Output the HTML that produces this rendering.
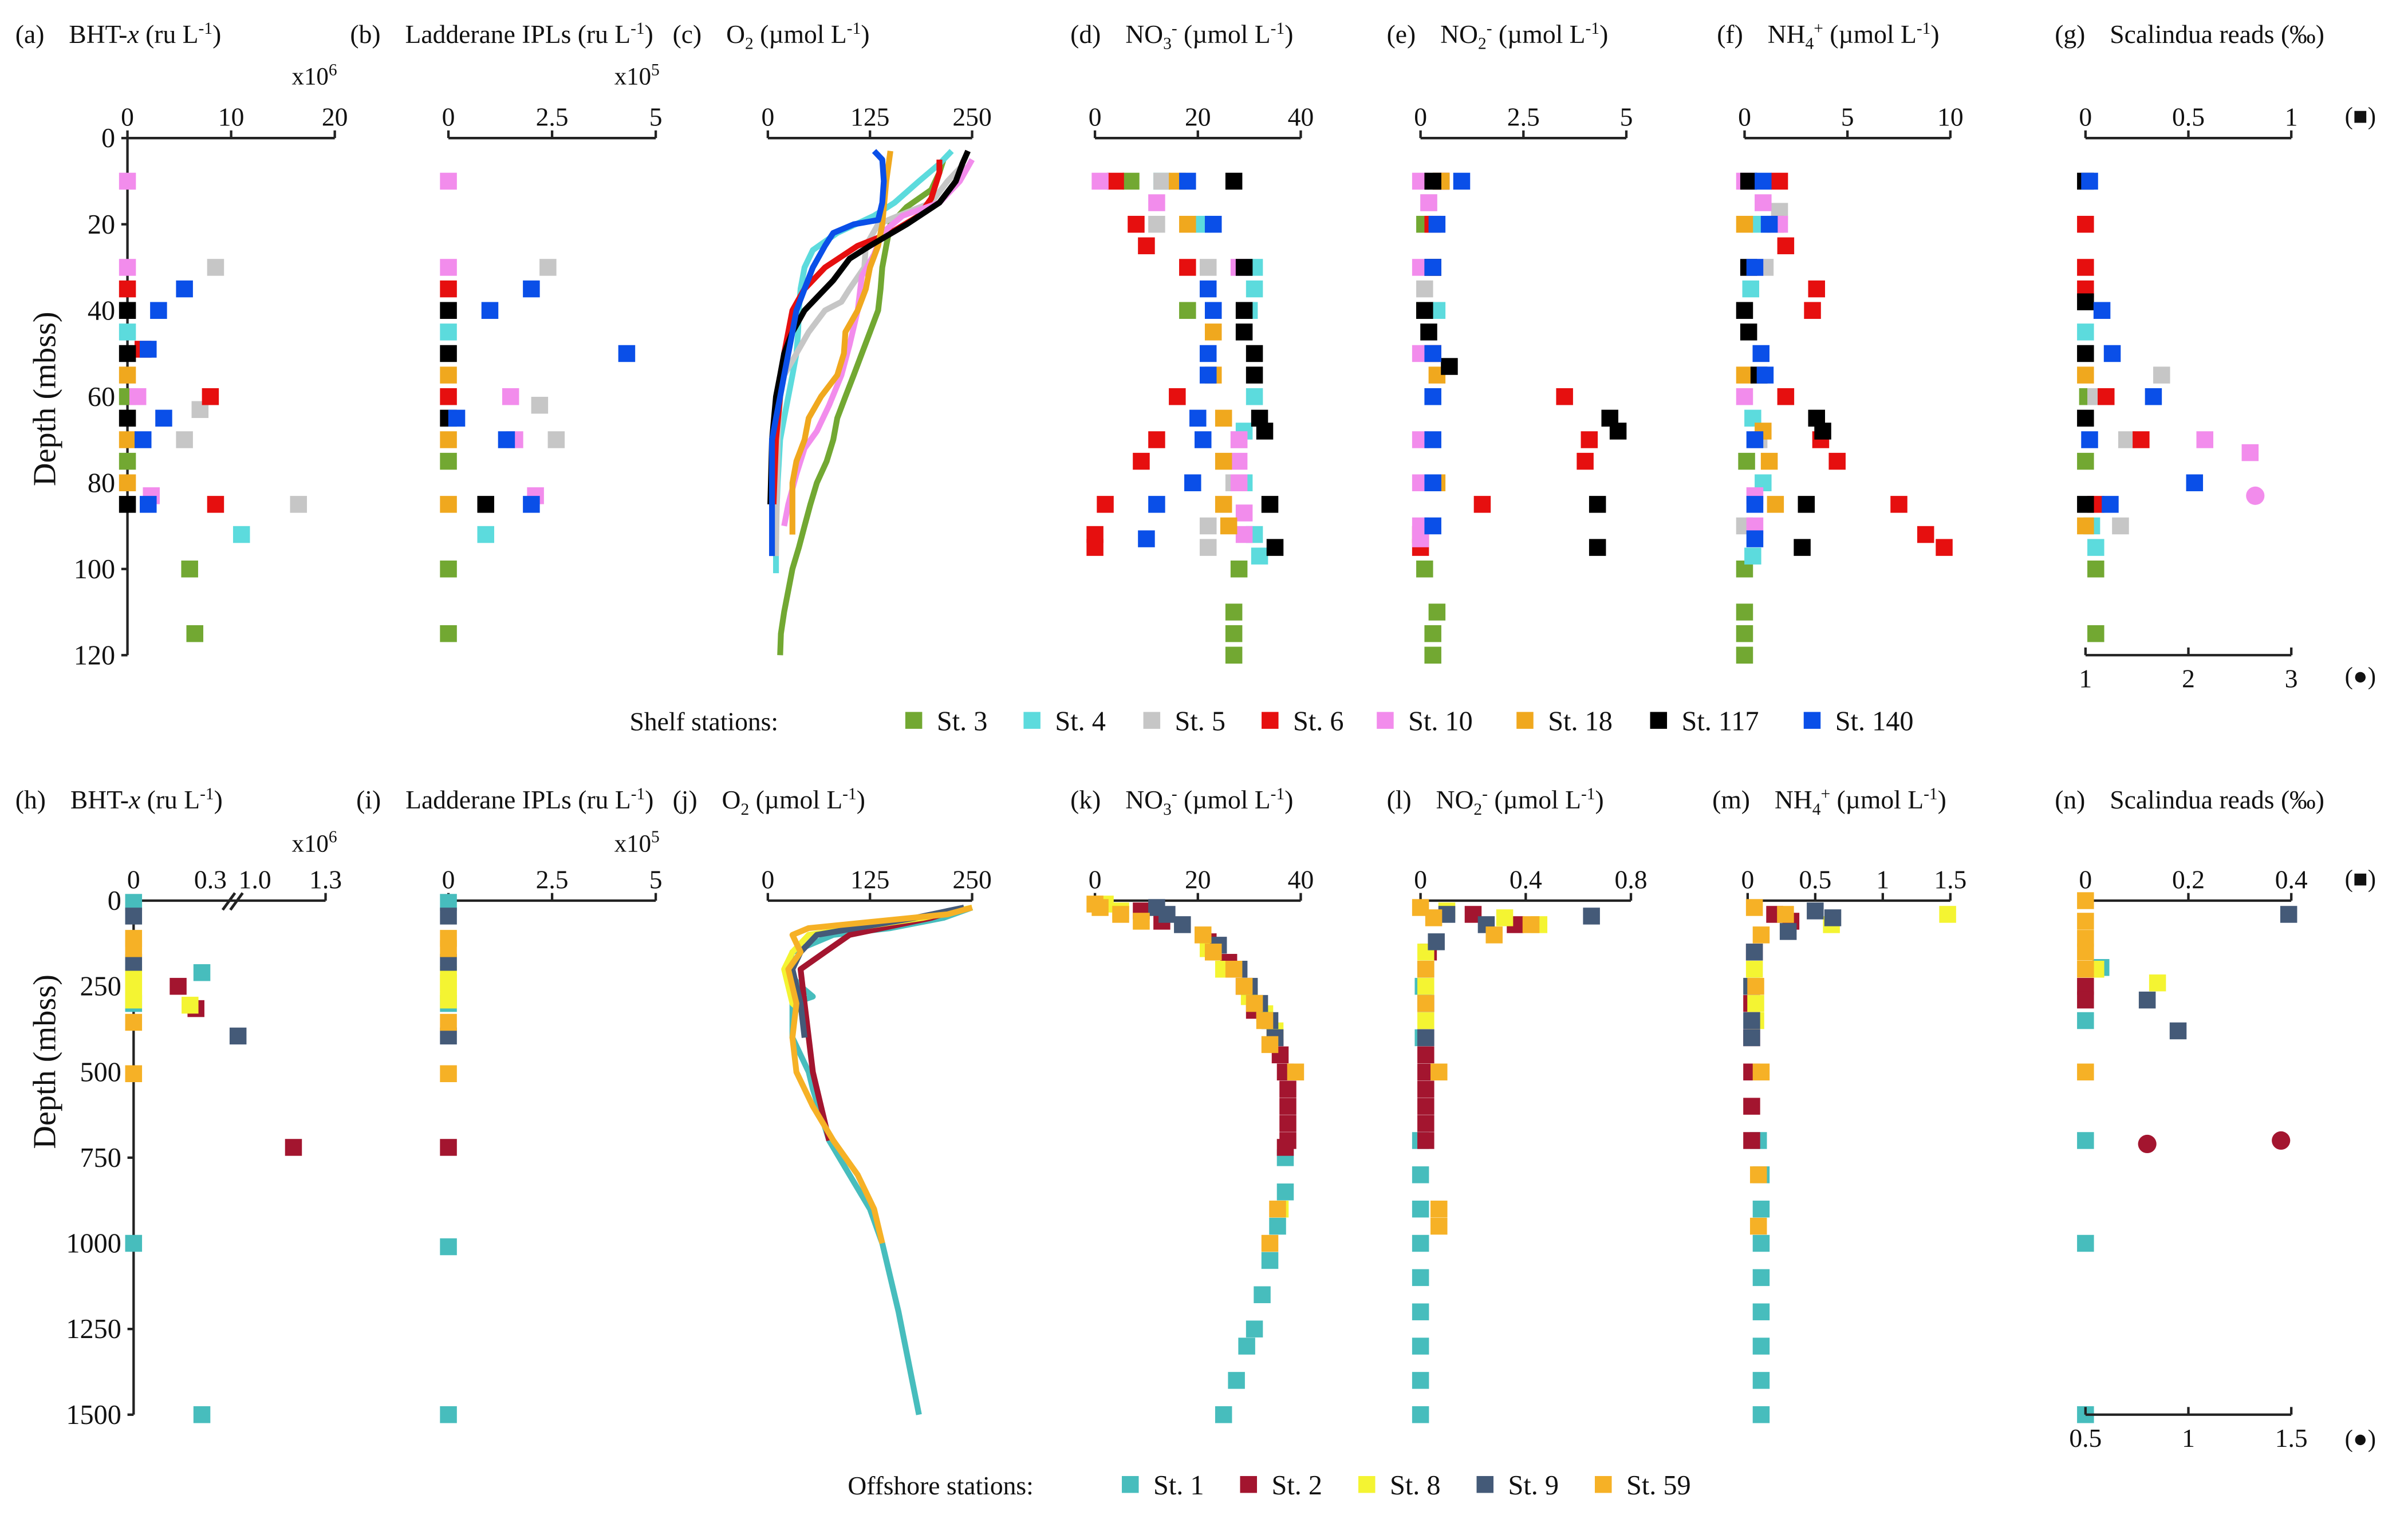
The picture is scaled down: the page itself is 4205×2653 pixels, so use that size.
<!DOCTYPE html>
<html><head><meta charset="utf-8"><style>
html,body{margin:0;padding:0;background:#fff}
svg{display:block;font-family:"Liberation Serif","DejaVu Serif",serif}
text{font-family:"Liberation Serif","DejaVu Serif",serif;fill:#111}
</style></head><body>
<svg id="fig" xmlns="http://www.w3.org/2000/svg" width="4205" height="2653" viewBox="0 0 1568 990" preserveAspectRatio="none">
<g id="static" font-size="17">
<text x="10" y="28">(a)<tspan dx="16">BHT-</tspan><tspan font-style="italic">x</tspan> (ru L<tspan dy="-6" font-size="11">-1</tspan><tspan dy="6">)</tspan></text>
<text x="228" y="28">(b)<tspan dx="16">Ladderane IPLs (ru L</tspan><tspan dy="-6" font-size="11">-1</tspan><tspan dy="6">)</tspan></text>
<text x="438" y="28">(c)<tspan dx="16">O</tspan><tspan dy="4" font-size="11">2</tspan><tspan dy="-4"> (µmol L</tspan><tspan dy="-6" font-size="11">-1</tspan><tspan dy="6">)</tspan></text>
<text x="697" y="28">(d)<tspan dx="16">NO</tspan><tspan dy="4" font-size="11">3</tspan><tspan dy="-10" font-size="11">-</tspan><tspan dy="6"> (µmol L</tspan><tspan dy="-6" font-size="11">-1</tspan><tspan dy="6">)</tspan></text>
<text x="903" y="28">(e)<tspan dx="16">NO</tspan><tspan dy="4" font-size="11">2</tspan><tspan dy="-10" font-size="11">-</tspan><tspan dy="6"> (µmol L</tspan><tspan dy="-6" font-size="11">-1</tspan><tspan dy="6">)</tspan></text>
<text x="1118" y="28">(f)<tspan dx="16">NH</tspan><tspan dy="4" font-size="11">4</tspan><tspan dy="-10" font-size="11">+</tspan><tspan dy="6"> (µmol L</tspan><tspan dy="-6" font-size="11">-1</tspan><tspan dy="6">)</tspan></text>
<text x="1338" y="28">(g)<tspan dx="16">Scalindua reads (‰)</tspan></text>
<text x="10" y="527">(h)<tspan dx="16">BHT-</tspan><tspan font-style="italic">x</tspan> (ru L<tspan dy="-6" font-size="11">-1</tspan><tspan dy="6">)</tspan></text>
<text x="232" y="527">(i)<tspan dx="16">Ladderane IPLs (ru L</tspan><tspan dy="-6" font-size="11">-1</tspan><tspan dy="6">)</tspan></text>
<text x="438" y="527">(j)<tspan dx="16">O</tspan><tspan dy="4" font-size="11">2</tspan><tspan dy="-4"> (µmol L</tspan><tspan dy="-6" font-size="11">-1</tspan><tspan dy="6">)</tspan></text>
<text x="697" y="527">(k)<tspan dx="16">NO</tspan><tspan dy="4" font-size="11">3</tspan><tspan dy="-10" font-size="11">-</tspan><tspan dy="6"> (µmol L</tspan><tspan dy="-6" font-size="11">-1</tspan><tspan dy="6">)</tspan></text>
<text x="903" y="527">(l)<tspan dx="16">NO</tspan><tspan dy="4" font-size="11">2</tspan><tspan dy="-10" font-size="11">-</tspan><tspan dy="6"> (µmol L</tspan><tspan dy="-6" font-size="11">-1</tspan><tspan dy="6">)</tspan></text>
<text x="1115" y="527">(m)<tspan dx="16">NH</tspan><tspan dy="4" font-size="11">4</tspan><tspan dy="-10" font-size="11">+</tspan><tspan dy="6"> (µmol L</tspan><tspan dy="-6" font-size="11">-1</tspan><tspan dy="6">)</tspan></text>
<text x="1338" y="527">(n)<tspan dx="16">Scalindua reads (‰)</tspan></text>
<text x="190" y="55" font-size="16">x10<tspan dy="-6" font-size="11">6</tspan></text>
<text x="400" y="55" font-size="16">x10<tspan dy="-6" font-size="11">5</tspan></text>
<text x="190" y="555" font-size="16">x10<tspan dy="-6" font-size="11">6</tspan></text>
<text x="400" y="555" font-size="16">x10<tspan dy="-6" font-size="11">5</tspan></text>
<text transform="translate(36,260) rotate(-90)" text-anchor="middle" font-size="21">Depth (mbss)</text>
<text transform="translate(36,692) rotate(-90)" text-anchor="middle" font-size="21">Depth (mbss)</text>
<text x="1537" y="81" text-anchor="middle" font-size="16">(■)</text>
<text x="1537" y="446" text-anchor="middle" font-size="16">(●)</text>
<text x="1537" y="578" text-anchor="middle" font-size="16">(■)</text>
<text x="1537" y="943" text-anchor="middle" font-size="16">(●)</text>
<text x="410" y="476">Shelf stations:</text>
<text x="552" y="974">Offshore stations:</text>
</g>
<g id="plot"></g>
</svg>
<script>
const shelfStations = ['St. 3','St. 4','St. 5','St. 6','St. 10','St. 18','St. 117','St. 140'];
const shelfColors = ['#72a832','#5cdbdd','#c6c6c6','#e60f0f','#f28cec','#f0a81e','#000000','#0a4fe8'];
const offStations = ['St. 1','St. 2','St. 8','St. 9','St. 59'];
const offColors = ['#47bdbd','#a3152f','#f4f432','#445a78','#f6b126'];

const bhtShelf = [
 [[60,0],[75,0],[100,6],[115,6.5]],
 [[45,0],[92,11]],
 [[30,8.5],[63,7],[70,5.5],[85,16.5]],
 [[35,0],[49,1.5],[60,8],[85,8.5]],
 [[10,0],[30,0],[60,1],[83,2.3]],
 [[55,0],[70,0],[80,0]],
 [[40,0],[50,0],[65,0],[85,0]],
 [[35,5.5],[40,3],[49,2],[65,3.5],[70,1.5],[85,2]]
];
const ladShelf = [
 [[75,0],[100,0],[115,0]],
 [[45,0],[92,0.9]],
 [[30,2.4],[62,2.2],[70,2.6]],
 [[35,0],[60,0]],
 [[10,0],[30,0],[60,1.5],[70,1.6],[83,2.1]],
 [[55,0],[70,0],[85,0]],
 [[40,0],[50,0],[65,0],[85,0.9]],
 [[35,2.0],[40,1.0],[50,4.3],[65,0.2],[70,1.4],[85,2.0]]
];
const o2Shelf = [
 [[5,215],[8,210],[12,200],[16,170],[20,150],[25,145],[30,140],[35,138],[40,135],[45,125],[50,115],[55,105],[60,95],[65,85],[70,80],[75,72],[80,60],[85,52],[90,45],[95,38],[100,30],[105,25],[110,20],[115,16],[120,15]],
 [[3,225],[6,210],[10,185],[15,155],[18,130],[22,85],[26,55],[30,45],[35,40],[40,38],[45,37],[50,35],[55,30],[60,25],[65,20],[70,15],[80,12],[90,10],[101,10]],
 [[6,240],[10,220],[15,200],[18,160],[20,135],[25,120],[30,118],[35,100],[38,90],[40,70],[45,50],[50,35],[55,20],[60,15],[70,12],[97,10]],
 [[5,210],[8,210],[14,200],[18,185],[22,150],[25,110],[30,70],[35,45],[40,30],[50,20],[60,15],[70,10],[85,7]],
 [[5,250],[10,235],[15,210],[18,165],[22,140],[27,130],[32,115],[40,110],[48,100],[55,90],[62,75],[68,60],[72,45],[78,35],[85,25],[90,20]],
 [[3,150],[10,145],[20,140],[25,135],[30,125],[35,120],[40,110],[45,95],[50,93],[55,85],[60,65],[65,50],[70,45],[75,35],[80,30],[92,30]],
 [[3,245],[6,238],[10,230],[15,210],[20,170],[25,125],[28,100],[33,80],[37,60],[40,45],[45,30],[50,20],[55,15],[60,10],[70,5],[85,3]],
 [[3,130],[5,140],[10,142],[15,140],[19,135],[20,105],[22,80],[25,70],[30,55],[35,45],[40,35],[45,30],[55,20],[60,15],[65,10],[70,5],[97,5]]
];
const no3Shelf = [
 [[10,7],[40,18],[100,28],[110,27],[115,27],[120,27]],
 [[10,13],[20,21],[30,31],[35,31],[40,30],[60,31],[68,29],[80,29],[92,31],[97,32]],
 [[10,13],[20,12],[30,22],[70,28],[80,27],[90,22],[95,22]],
 [[10,4],[20,8],[25,10],[30,18],[60,16],[70,12],[75,9],[85,2],[92,0],[95,0]],
 [[10,1],[15,12],[30,28],[70,28],[75,28],[80,28],[87,29],[92,29]],
 [[10,16],[20,18],[45,23],[55,23],[65,25],[75,25],[85,25],[90,26]],
 [[10,27],[30,29],[40,29],[45,29],[50,31],[55,31],[65,32],[68,33],[85,34],[95,35]],
 [[10,18],[20,23],[35,22],[40,23],[50,22],[55,22],[65,20],[70,21],[80,19],[85,12],[93,10]]
];
const no2Shelf = [
 [[20,0.1],[40,0.1],[100,0.1],[110,0.4],[115,0.3],[120,0.3]],
 [[10,0.5],[40,0.4],[60,0.3]],
 [[15,0.2],[35,0.1]],
 [[10,0.5],[20,0.3],[30,0.3],[50,0.3],[60,3.5],[70,4.1],[75,4.0],[85,1.5],[92,0],[95,0]],
 [[10,0],[15,0.2],[30,0],[50,0],[70,0],[80,0],[90,0],[93,0]],
 [[10,0.5],[55,0.4],[80,0.4]],
 [[10,0.3],[30,0.3],[40,0.1],[45,0.2],[53,0.7],[65,4.6],[68,4.8],[85,4.3],[95,4.3]],
 [[10,1.0],[20,0.4],[30,0.3],[50,0.3],[60,0.3],[70,0.3],[80,0.3],[90,0.3]]
];
const nh4Shelf = [
 [[75,0.1],[100,0],[110,0],[115,0],[120,0]],
 [[20,0.7],[35,0.3],[65,0.4],[80,0.9],[97,0.4]],
 [[17,1.7],[30,1.0],[70,0.7],[90,0]],
 [[10,1.7],[20,1.5],[25,2.0],[35,3.5],[40,3.3],[60,2.0],[70,3.7],[75,4.5],[85,7.5],[92,8.8],[95,9.7]],
 [[10,0],[15,0.9],[20,1.7],[30,0.5],[60,0],[83,0.5],[90,0.5]],
 [[20,0],[55,0],[68,0.9],[75,1.2],[85,1.5]],
 [[10,0.2],[30,0.2],[40,0],[45,0.2],[55,0.7],[65,3.5],[68,3.8],[85,3.0],[95,2.8]],
 [[10,0.9],[20,1.2],[30,0.5],[50,0.8],[55,1.0],[70,0.5],[85,0.5],[93,0.5]]
];
const scalShelf = [
 [[60,0.01],[75,0],[100,0.05],[115,0.05]],
 [[45,0],[90,0.03],[95,0.05]],
 [[55,0.37],[60,0.05],[70,0.2],[90,0.17]],
 [[20,0],[30,0],[35,0],[60,0.1],[70,0.27],[85,0.05]],
 [[70,0.58],[73,0.8]],
 [[55,0],[90,0]],
 [[10,0],[38,0],[50,0],[65,0],[85,0]],
 [[10,0.02],[40,0.08],[50,0.13],[60,0.33],[70,0.02],[80,0.53],[85,0.12]]
];
const scalShelfCircles = [[],[],[],[],[[83,2.65]],[],[],[]];

const bhtOff = [
 [[5,0],[300,0],[210,0.23],[1000,0],[1500,0.23]],
 [[250,0.15],[315,0.21],[720,1.19]],
 [[215,0],[240,0],[265,0],[290,0],[305,0.19]],
 [[45,0],[180,0],[395,1.0]],
 [[110,0],[140,0],[355,0],[505,0]]
];
const ladOff = [
 [[5,0],[300,0],[1010,0],[1500,0]],
 [[720,0]],
 [[215,0],[240,0],[265,0],[290,0]],
 [[45,0],[180,0],[395,0]],
 [[110,0],[140,0],[355,0],[505,0]]
];
const o2Off = [
 [[20,250],[50,215],[80,150],[100,80],[150,30],[200,22],[250,40],[280,55],[300,30],[400,30],[500,50],[550,55],[700,75],[800,100],[900,125],[1000,140],[1200,160],[1500,185]],
 [[20,240],[50,200],[100,100],[150,70],[200,40],[300,45],[400,50],[500,55],[600,65],[700,75]],
 [[20,250],[50,190],[100,50],[150,30],[200,20],[300,30],[320,40]],
 [[20,240],[50,180],[100,60],[150,40],[200,30],[300,40],[400,45]],
 [[20,250],[40,220],[80,50],[100,30],[150,40],[200,25],[300,35],[400,30],[500,35],[600,55],[700,80],[800,110],[900,130],[1000,140]]
];
const no3Off = [
 [[750,37],[850,37],[950,35.5],[1050,34],[1150,32.5],[1250,31],[1300,29.5],[1400,27.5],[1500,25]],
 [[30,9],[60,13],[120,22],[180,26],[250,29],[320,31],[400,35],[450,36],[500,37],[550,37.5],[600,37.5],[650,37.5],[700,37.5],[720,37]],
 [[10,2],[30,5],[140,22],[200,25],[280,30],[330,33],[380,35],[900,36]],
 [[20,12],[40,14],[70,17],[130,24],[200,28],[250,30],[300,32],[350,34],[400,35]],
 [[10,0],[20,1],[40,5],[60,9],[100,21],[150,23],[200,27],[250,29],[300,31],[350,33],[420,34],[500,39],[900,35.5],[1000,34]]
];
const no2Off = [
 [[250,0.01],[400,0.01],[700,0],[800,0],[900,0],[1000,0],[1100,0],[1200,0],[1300,0],[1400,0],[1500,0]],
 [[40,0.2],[70,0.36],[150,0.03],[300,0.02],[400,0.02],[450,0.02],[500,0.02],[550,0.02],[600,0.02],[650,0.02],[700,0.02]],
 [[30,0.1],[50,0.32],[70,0.45],[150,0.02],[250,0.02],[350,0.02]],
 [[40,0.1],[45,0.65],[70,0.25],[120,0.06],[200,0.02],[300,0.02],[400,0.02]],
 [[20,0],[50,0.05],[70,0.42],[100,0.28],[200,0.02],[300,0.02],[500,0.07],[900,0.07],[950,0.07]]
];
const nh4Off = [
 [[700,0.08],[800,0.1],[900,0.1],[1000,0.1],[1100,0.1],[1200,0.1],[1300,0.1],[1400,0.1],[1500,0.1]],
 [[40,0.2],[60,0.32],[150,0.05],[300,0.03],[400,0.03],[500,0.03],[600,0.03],[700,0.03]],
 [[40,1.48],[70,0.62],[200,0.05],[300,0.06],[350,0.06]],
 [[30,0.5],[50,0.63],[90,0.3],[150,0.05],[250,0.03],[350,0.03],[400,0.03]],
 [[20,0.05],[40,0.28],[100,0.1],[250,0.06],[500,0.1],[800,0.08],[950,0.08]]
];
const scalOff = [
 [[195,0.03],[350,0],[700,0],[1000,0],[1500,0]],
 [[250,0],[290,0]],
 [[200,0.02],[240,0.14]],
 [[40,0.395],[290,0.12],[380,0.18]],
 [[0,0],[60,0],[110,0],[150,0],[200,0],[500,0]]
];
const scalOffCircles = [[],[[710,0.8],[700,1.45]],[],[],[]];

const depthTicksTop = [0,20,40,60,80,100,120];
const depthTicksBottom = [0,250,500,750,1000,1250,1500];

const NS='http://www.w3.org/2000/svg';
const plot=document.getElementById('plot');
function el(tag,attrs,parent){const e=document.createElementNS(NS,tag);for(const k in attrs)e.setAttribute(k,attrs[k]);(parent||plot).appendChild(e);return e;}
function txt(x,y,s,anchor,size,parent){const t=el('text',{x:x,y:y,'text-anchor':anchor||'middle','font-size':size||16},parent);t.textContent=s;return t;}

const yTop=d=>90+d*(337/120);
const yBot=d=>587+d*(335/1500);
function lin(x0,x1,v0,v1){return v=>x0+(v-v0)/(v1-v0)*(x1-x0);}

function topAxis(name,x0,x1,y,labels,xs){
  const g=el('g',{});
  
  
  el('line',{x1:x0,y1:y,x2:x1,y2:y,stroke:'#222','stroke-width':1.6},g);
  labels.forEach((l,i)=>{el('line',{x1:xs[i],y1:y,x2:xs[i],y2:y-5,stroke:'#222','stroke-width':1.6},g);txt(xs[i],y-8,l,'middle',17,g);});
}
function bottomAxis(name,x0,x1,y,labels,xs){
  const g=el('g',{});
  
  
  el('line',{x1:x0,y1:y,x2:x1,y2:y,stroke:'#222','stroke-width':1.6},g);
  labels.forEach((l,i)=>{el('line',{x1:xs[i],y1:y,x2:xs[i],y2:y-5,stroke:'#222','stroke-width':1.6},g);txt(xs[i],y+21,l,'middle',17,g);});
}
function depthAxis(name,x,ticks,ys){
  const g=el('g',{});
  
  
  el('line',{x1:x,y1:ys(ticks[0]),x2:x,y2:ys(ticks[ticks.length-1]),stroke:'#222','stroke-width':1.6},g);
  ticks.forEach(t=>{el('line',{x1:x-4,y1:ys(t),x2:x,y2:ys(t),stroke:'#222','stroke-width':1.6},g);txt(x-8,ys(t)+6,String(t),'end',18,g);});
}
function squares(name,data,colors,xs,ys){
  const g=el('g',{});
  
  
  data.forEach((pts,si)=>pts.forEach(p=>{
    const r=el('rect',{x:xs(p[1])-5.5,y:ys(p[0])-5.5,width:11,height:11,fill:colors[si]},g);
    
    
  }));
}
function circles(name,data,colors,xs,ys){
  const g=el('g',{});
  
  
  data.forEach((pts,si)=>pts.forEach(p=>{
    const c=el('circle',{cx:xs(p[1]),cy:ys(p[0]),r:6,fill:colors[si]},g);
    
    
  }));
}
function lines(name,data,colors,xs,ys){
  const g=el('g',{});
  
  
  data.forEach((pts,si)=>{
    const d=pts.map((p,i)=>(i?'L':'M')+xs(p[1]).toFixed(1)+','+ys(p[0]).toFixed(1)).join('');
    const pa=el('path',{d:d,fill:'none',stroke:colors[si],'stroke-width':3.8,'stroke-linejoin':'round'},g);
    
    
  });
}

let sx;
sx=lin(83,218,0,20); topAxis('x-axis-a',83,218,90,['0','10','20'],[0,10,20].map(sx));
depthAxis('y-axis-top',83,depthTicksTop,yTop);
squares('bht-shelf-points',bhtShelf,shelfColors,sx,yTop);
sx=lin(292,427,0,5); topAxis('x-axis-b',292,427,90,['0','2.5','5'],[0,2.5,5].map(sx));
squares('ladderane-shelf-points',ladShelf,shelfColors,sx,yTop);
sx=lin(500,633,0,250); topAxis('x-axis-c',500,633,90,['0','125','250'],[0,125,250].map(sx));
lines('o2-shelf-lines',o2Shelf,shelfColors,sx,yTop);
sx=lin(713,847,0,40); topAxis('x-axis-d',713,847,90,['0','20','40'],[0,20,40].map(sx));
squares('no3-shelf-points',no3Shelf,shelfColors,sx,yTop);
sx=lin(925,1059,0,5); topAxis('x-axis-e',925,1059,90,['0','2.5','5'],[0,2.5,5].map(sx));
squares('no2-shelf-points',no2Shelf,shelfColors,sx,yTop);
sx=lin(1136,1270,0,10); topAxis('x-axis-f',1136,1270,90,['0','5','10'],[0,5,10].map(sx));
squares('nh4-shelf-points',nh4Shelf,shelfColors,sx,yTop);
sx=lin(1358,1492,0,1); topAxis('x-axis-g-squares',1358,1492,90,['0','0.5','1'],[0,0.5,1].map(sx));
squares('scalindua-shelf-squares',scalShelf,shelfColors,sx,yTop);
sx=lin(1358,1492,1,3); bottomAxis('x-axis-g-circles',1358,1492,427,['1','2','3'],[1,2,3].map(sx));
circles('scalindua-shelf-circles',scalShelfCircles,shelfColors,sx,yTop);

const hScale=v=>v<=0.3?87+v*(58/0.3):155+(v-1)*(57/0.3);
(function(){
  const g=el('g',{});
  
  
  el('line',{x1:87,y1:587,x2:212,y2:587,stroke:'#222','stroke-width':1.6},g);
  el('line',{x1:212,y1:587,x2:212,y2:582,stroke:'#222','stroke-width':1.6},g);
  el('line',{x1:145,y1:593,x2:153,y2:582,stroke:'#222','stroke-width':1.8},g);
  el('line',{x1:150,y1:593,x2:158,y2:582,stroke:'#222','stroke-width':1.8},g);
  txt(87,579,'0','middle',17,g); txt(137,579,'0.3','middle',17,g); txt(166,579,'1.0','middle',17,g); txt(212,579,'1.3','middle',17,g);
})();
depthAxis('y-axis-bottom',87,depthTicksBottom,yBot);
squares('bht-offshore-points',bhtOff,offColors,hScale,yBot);
sx=lin(292,427,0,5); topAxis('x-axis-i',292,427,587,['0','2.5','5'],[0,2.5,5].map(sx));
squares('ladderane-offshore-points',ladOff,offColors,sx,yBot);
sx=lin(500,633,0,250); topAxis('x-axis-j',500,633,587,['0','125','250'],[0,125,250].map(sx));
lines('o2-offshore-lines',o2Off,offColors,sx,yBot);
sx=lin(713,847,0,40); topAxis('x-axis-k',713,847,587,['0','20','40'],[0,20,40].map(sx));
squares('no3-offshore-points',no3Off,offColors,sx,yBot);
sx=lin(925,1062,0,0.8); topAxis('x-axis-l',925,1062,587,['0','0.4','0.8'],[0,0.4,0.8].map(sx));
squares('no2-offshore-points',no2Off,offColors,sx,yBot);
sx=lin(1138,1270,0,1.5); topAxis('x-axis-m',1138,1270,587,['0','0.5','1','1.5'],[0,0.5,1,1.5].map(sx));
squares('nh4-offshore-points',nh4Off,offColors,sx,yBot);
sx=lin(1358,1492,0,0.4); topAxis('x-axis-n-squares',1358,1492,587,['0','0.2','0.4'],[0,0.2,0.4].map(sx));
squares('scalindua-offshore-squares',scalOff,offColors,sx,yBot);
sx=lin(1358,1492,0.5,1.5); bottomAxis('x-axis-n-circles',1358,1492,922,['0.5','1','1.5'],[0.5,1,1.5].map(sx));
circles('scalindua-offshore-circles',scalOffCircles,offColors,sx,yBot);

const shelfLegX=[595,672,750,827,902,993,1080,1180];
shelfStations.forEach((s,i)=>{
  const g=el('g',{});
  
  
  el('rect',{x:shelfLegX[i]-5.5,y:464,width:11,height:11,fill:shelfColors[i]},g);
  txt(shelfLegX[i]+15,476,s,'start',18,g);
});
const offLegX=[736,813,890,967,1044];
offStations.forEach((s,i)=>{
  const g=el('g',{});
  
  
  el('rect',{x:offLegX[i]-5.5,y:962,width:11,height:11,fill:offColors[i]},g);
  txt(offLegX[i]+15,974,s,'start',18,g);
});
</script>
</body></html>
